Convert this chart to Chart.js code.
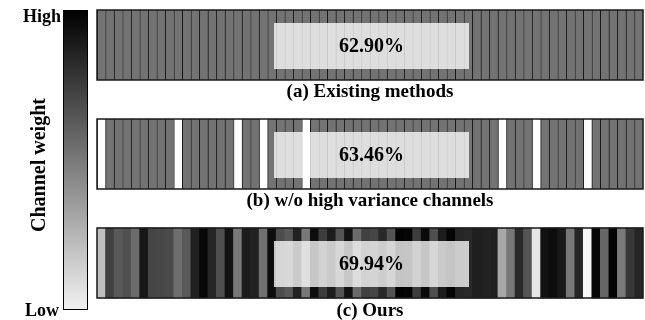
<!DOCTYPE html>
<html>
<head>
<meta charset="utf-8">
<script src="https://cdn.jsdelivr.net/npm/chart.js@4.4.1/dist/chart.umd.min.js"></script>
<style>
html,body{margin:0;padding:0;background:#fff;}
#wrap{position:relative;width:645px;height:320px;}
</style>
</head>
<body>
<div id="wrap"><canvas id="c" width="645" height="320"></canvas></div>
<script>
// ---- data ----
const channels = Array.from({length: 64}, (_, i) => 'ch' + (i + 1));
// channel weights (0 = low / white, 1 = high / black)
const weightsExisting = [
  0.55,0.55,0.55,0.55,0.55,0.55,0.55,0.55,0.55,0.55,0.55,0.55,0.55,0.55,0.55,0.55,
  0.55,0.55,0.55,0.55,0.55,0.55,0.55,0.55,0.55,0.55,0.55,0.55,0.55,0.55,0.55,0.55,
  0.55,0.55,0.55,0.55,0.55,0.55,0.55,0.55,0.55,0.55,0.55,0.55,0.55,0.55,0.55,0.55,
  0.55,0.55,0.55,0.55,0.55,0.55,0.55,0.55,0.55,0.55,0.55,0.55,0.55,0.55,0.55,0.55
];
const weightsNoVar = [
  0,0.55,0.55,0.55,0.55,0.55,0.55,0.55,0.55,0,0.55,0.55,0.55,0.55,0.55,0.55,
  0,0.55,0.55,0,0.55,0.55,0.55,0.55,0,0.55,0.55,0.55,0.55,0.55,0.55,0.55,
  0.55,0.55,0.55,0.55,0.55,0.55,0.55,0.55,0.55,0.55,0.55,0.55,0.55,0.55,0.55,0,
  0.55,0.55,0.55,0,0.55,0.55,0.55,0.55,0.55,0,0.55,0.55,0.55,0.55,0.55,0.55
];
const weightsOurs = [
  0.25,0.75,0.65,0.69,0.58,0.91,0.73,0.72,0.71,0.57,0.65,0.87,0.97,0.85,0.69,0.93,
  0.53,0.89,0.87,0.56,0.95,0.70,0.65,0.87,0.53,0.95,0.76,0.89,0.67,0.93,0.58,0.75,
  0.73,0.84,0.67,0.99,0.98,0.76,0.96,0.69,0.89,0.98,0.85,0.84,0.88,0.87,0.87,0.34,
  0.53,0.84,0.67,0.10,0.93,0.95,0.90,0.53,0.85,0.03,0.97,0.60,0.98,0.52,0.78,0.85
];
const accuracies = ['62.90%', '63.46%', '69.94%'];
const captions = ['(a) Existing methods', '(b) w/o high variance channels', '(c) Ours'];
const axisTitle = 'Channel weight';
const scaleLabels = ['High', 'Low'];

// ---- layout / style ----
const SERIF = '"Liberation Serif", "Times New Roman", serif';
const strips = [[10, 80], [119, 189], [228, 298]];
const boxInset = [13, 11];
const boxX = [274, 469];
const captionTop = [83, 192, 302];
const cbar = {x: 63, y: 10, w: 25, h: 300};

function gray(w) {
  const g = Math.round(255 * (1 - w));
  return 'rgb(' + g + ',' + g + ',' + g + ')';
}

function stripDataset(weights, idx, separators) {
  const [t, b] = strips[idx];
  return {
    data: weights.map(() => [t, b]),
    backgroundColor: weights.map(gray),
    borderColor: '#151515',
    borderWidth: separators ? {left: 1, right: 0, top: 0, bottom: 0} : 0,
    borderSkipped: false,
    grouped: false,
    barPercentage: 1,
    categoryPercentage: 1
  };
}

const annot = {
  id: 'annot',
  afterDatasetsDraw(chart) {
    const ctx = chart.ctx;
    const ys = chart.scales.y;
    const L = chart.chartArea.left, R = chart.chartArea.right;
    ctx.save();
    strips.forEach(([t, b], i) => {
      const yt = ys.getPixelForValue(t), yb = ys.getPixelForValue(b);
      // frame
      ctx.strokeStyle = '#1a1a1a';
      ctx.lineWidth = 1.5;
      ctx.strokeRect(L, yt, R - L, yb - yt);
      // overlay box
      const by0 = ys.getPixelForValue(t + boxInset[0]);
      const by1 = ys.getPixelForValue(b - boxInset[1]);
      ctx.fillStyle = 'rgba(255,255,255,0.77)';
      ctx.fillRect(boxX[0], by0, boxX[1] - boxX[0], by1 - by0);
      ctx.fillStyle = '#000';
      ctx.font = 'bold 20px ' + SERIF;
      ctx.textAlign = 'center';
      ctx.textBaseline = 'middle';
      ctx.fillText(accuracies[i], (boxX[0] + boxX[1]) / 2, (by0 + by1) / 2 + 1);
      // caption
      ctx.font = 'bold 19px ' + SERIF;
      ctx.textBaseline = 'top';
      ctx.fillText(captions[i], (L + R) / 2, captionTop[i]);
    });
    // colour bar
    const g = ctx.createLinearGradient(0, cbar.y, 0, cbar.y + cbar.h);
    g.addColorStop(0, gray(1));
    g.addColorStop(1, 'rgb(242,242,242)');
    ctx.fillStyle = g;
    ctx.fillRect(cbar.x, cbar.y, cbar.w, cbar.h);
    ctx.strokeStyle = '#000';
    ctx.lineWidth = 1;
    ctx.strokeRect(cbar.x + 0.5, cbar.y + 0.5, cbar.w - 1, cbar.h - 1);
    ctx.fillStyle = '#000';
    ctx.font = 'bold 18px ' + SERIF;
    ctx.textAlign = 'right';
    ctx.textBaseline = 'top';
    ctx.fillText(scaleLabels[0], cbar.x - 2, cbar.y - 2);
    ctx.textBaseline = 'bottom';
    ctx.fillText(scaleLabels[1], cbar.x - 4, cbar.y + cbar.h + 10);
    ctx.save();
    ctx.translate(40, cbar.y + cbar.h / 2 + 5);
    ctx.rotate(-Math.PI / 2);
    ctx.textAlign = 'center';
    ctx.textBaseline = 'middle';
    ctx.font = 'bold 20px ' + SERIF;
    ctx.fillText(axisTitle, 0, 0);
    ctx.restore();
    ctx.restore();
  }
};

new Chart(document.getElementById('c'), {
  type: 'bar',
  data: {
    labels: channels,
    datasets: [
      stripDataset(weightsExisting, 0, true),
      stripDataset(weightsNoVar, 1, true),
      stripDataset(weightsOurs, 2, false)
    ]
  },
  options: {
    responsive: false,
    animation: false,
    layout: {padding: {left: 97, right: 2, top: 0, bottom: 0}},
    plugins: {legend: {display: false}, tooltip: {enabled: false}},
    scales: {
      x: {display: false, offset: true},
      y: {display: false, min: 0, max: 320, reverse: true}
    }
  },
  plugins: [annot]
});
</script>
</body>
</html>
